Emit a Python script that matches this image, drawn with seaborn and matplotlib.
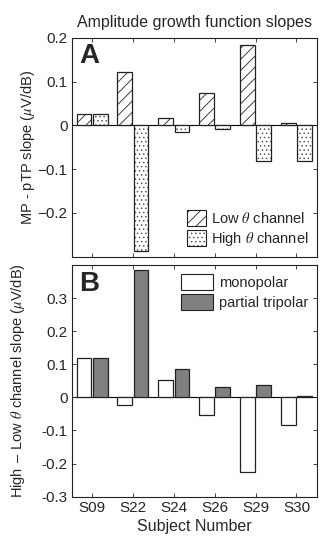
import matplotlib
matplotlib.use("Agg")
import matplotlib.pyplot as plt
from matplotlib.patches import Patch
import numpy as np
import pandas as pd
import seaborn as sns

# Subjects and slope differences (uV/dB)
subjects = ["S09", "S22", "S24", "S26", "S29", "S30"]

# Panel A: monopolar minus partial-tripolar slope
low_theta = [0.026, 0.123, 0.016, 0.075, 0.183, 0.005]
high_theta = [0.026, -0.288, -0.016, -0.007, -0.082, -0.082]

# Panel B: high minus low theta channel slope
monopolar = [0.118, -0.023, 0.054, -0.052, -0.225, -0.082]
partial_tripolar = [0.118, 0.384, 0.085, 0.030, 0.036, 0.005]

sns.set_style("ticks", {"xtick.direction": "in", "ytick.direction": "in"})
plt.rcParams["font.family"] = ["Liberation Sans", "DejaVu Sans"]
plt.rcParams["mathtext.fontset"] = "stix"
plt.rcParams["hatch.linewidth"] = 0.6
plt.rcParams["axes.linewidth"] = 0.8

df_a = pd.DataFrame({
    "subject": subjects * 2,
    "value": low_theta + high_theta,
    "channel": ["Low"] * 6 + ["High"] * 6,
})
df_b = pd.DataFrame({
    "subject": subjects * 2,
    "value": monopolar + partial_tripolar,
    "config": ["monopolar"] * 6 + ["partial tripolar"] * 6,
})

fig = plt.figure(figsize=(3.24, 5.41), dpi=100)
ax_a = fig.add_axes([0.221, 0.5255, 0.757, 0.4043])
ax_b = fig.add_axes([0.221, 0.0819, 0.757, 0.4283])

edge = "#222222"
dot_hatch = "...."
line_hatch = "///"
dot_color = (0.35, 0.35, 0.35, 1.0)


def stipple(patch):
    patch.set_hatch(dot_hatch)
    patch._hatch_color = dot_color


# Panel A
sns.barplot(data=df_a, x="subject", y="value", hue="channel",
            palette=["white", "white"], edgecolor=edge, linewidth=0.9,
            width=0.8, gap=0.1, legend=False, ax=ax_a)
for i, patch in enumerate(ax_a.patches[:12]):
    if i < 6:
        patch.set_hatch(line_hatch)
    else:
        stipple(patch)
ax_a.axhline(0, color="black", lw=0.8, zorder=0.5)
ax_a.set_xlim(-0.5, 5.5)
ax_a.set_ylim(-0.3, 0.2)
ax_a.set_yticks([-0.2, -0.1, 0, 0.1, 0.2])
ax_a.set_yticklabels(["\u22120.2", "\u22120.1", "0", "0.1", "0.2"])
ax_a.set_xticklabels([])
ax_a.set_xlabel("")
ax_a.set_ylabel(r"MP - pTP slope ($\mu$V/dB)", fontsize=10.5)
ax_a.yaxis.set_label_coords(-0.14, 0.5)
ax_a.text(0.03, 0.975, "A", transform=ax_a.transAxes, fontsize=20,
          fontweight="bold", va="top", ha="left")
ax_a.set_title("Amplitude growth function slopes", fontsize=11.5, pad=8)
low_handle = Patch(facecolor="white", edgecolor=edge, hatch=line_hatch,
                   lw=0.8, label=r"Low $\theta$ channel")
high_handle = Patch(facecolor="white", edgecolor=edge, lw=0.8,
                    label=r"High $\theta$ channel")
leg_a = ax_a.legend(handles=[low_handle, high_handle], loc="lower right",
                    frameon=False, fontsize=10.5, handlelength=1.3,
                    handleheight=1.3, handletextpad=0.3, labelspacing=0.3,
                    borderaxespad=0.2)
stipple(leg_a.get_patches()[1])

# Panel B
sns.barplot(data=df_b, x="subject", y="value", hue="config",
            palette=["white", "#808080"], edgecolor=edge, linewidth=0.9,
            width=0.8, gap=0.1, legend=False, ax=ax_b)
ax_b.axhline(0, color="black", lw=0.8, zorder=0.5)
ax_b.set_xlim(-0.5, 5.5)
ax_b.set_ylim(-0.3, 0.4)
ax_b.set_yticks([-0.3, -0.2, -0.1, 0, 0.1, 0.2, 0.3])
ax_b.set_yticklabels(["-0.3", "-0.2", "-0.1", "0", "0.1", "0.2", "0.3"])
ax_b.set_xlabel("Subject Number", fontsize=11.5, labelpad=3)
ax_b.set_ylabel(r"High $-$ Low $\theta$ channel slope ($\mu$V/dB)",
                fontsize=10.5)
ax_b.yaxis.set_label_coords(-0.18, 0.5)
ax_b.text(0.03, 0.975, "B", transform=ax_b.transAxes, fontsize=20,
          fontweight="bold", va="top", ha="left")
handles_b = [
    Patch(facecolor="white", edgecolor=edge, lw=0.8, label="monopolar"),
    Patch(facecolor="#808080", edgecolor=edge, lw=0.8, label="partial tripolar"),
]
ax_b.legend(handles=handles_b, loc="upper right", frameon=False,
            fontsize=10.5, handlelength=2.2, handleheight=1.3,
            handletextpad=0.4, labelspacing=0.3, borderaxespad=0.2)

for ax in (ax_a, ax_b):
    ax.tick_params(axis="both", which="both", top=True, right=True,
                   length=3, width=0.6, labelsize=11, pad=3)
    for s in ax.spines.values():
        s.set_visible(True)
        s.set_color("#222222")

fig.savefig("out.png", dpi=100)
